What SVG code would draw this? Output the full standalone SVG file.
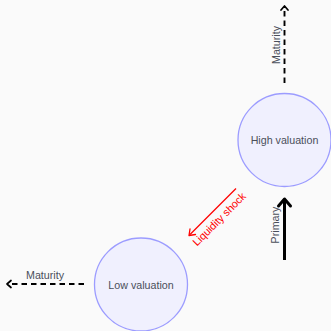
<svg xmlns="http://www.w3.org/2000/svg" width="331" height="331" viewBox="0 0 331 331">
<style>
.node circle{fill:#f0f0fe;stroke:#9c9cff;stroke-width:1.3}
.lbl{font-family:"Liberation Sans",Arial,sans-serif;font-size:10.7px;fill:#4a4f5a;text-anchor:middle;dominant-baseline:central}
.dash{stroke:#000;stroke-width:1.9;stroke-dasharray:5.5 4;fill:none}
.head{fill:none;stroke:#000;stroke-linecap:round;stroke-linejoin:round}
</style>
<rect width="331" height="331" fill="#fafafa"/>
<g id="high-valuation" class="node">
<circle cx="284.5" cy="140" r="46.5"/>
<text class="lbl" x="284.5" y="140">High valuation</text>
</g>
<g id="low-valuation" class="node">
<circle cx="141" cy="284.5" r="46.5"/>
<text class="lbl" x="141" y="284.5">Low valuation</text>
</g>
<g id="connectors">
<line class="dash" x1="284.5" y1="83" x2="284.5" y2="7"/>
<path class="head" stroke-width="1.7" d="M281,10 L284.5,6 L288,10"/>
<text class="lbl" transform="translate(276,45) rotate(-90)">Maturity</text>
<line x1="284.5" y1="260" x2="284.5" y2="200" stroke="#000" stroke-width="3"/>
<path class="head" stroke-width="3" d="M278.5,206 L284.5,199 L290.5,206"/>
<text class="lbl" transform="translate(275,225) rotate(-90)">Primary</text>
<line x1="236" y1="188.5" x2="190" y2="234.5" stroke="#f00" stroke-width="1.3"/>
<path d="M190,229 L189,235.5 L195.5,234.5" fill="none" stroke="#f00" stroke-width="1.3" stroke-linecap="round" stroke-linejoin="round"/>
<text class="lbl" style="fill:#f00" transform="translate(219,219) rotate(-45)">Liquidity shock</text>
<line class="dash" x1="84" y1="284" x2="8" y2="284"/>
<path class="head" stroke-width="1.7" d="M11,280.5 L7,284 L11,287.5"/>
<text class="lbl" x="45" y="274.5">Maturity</text>
</g>
</svg>
